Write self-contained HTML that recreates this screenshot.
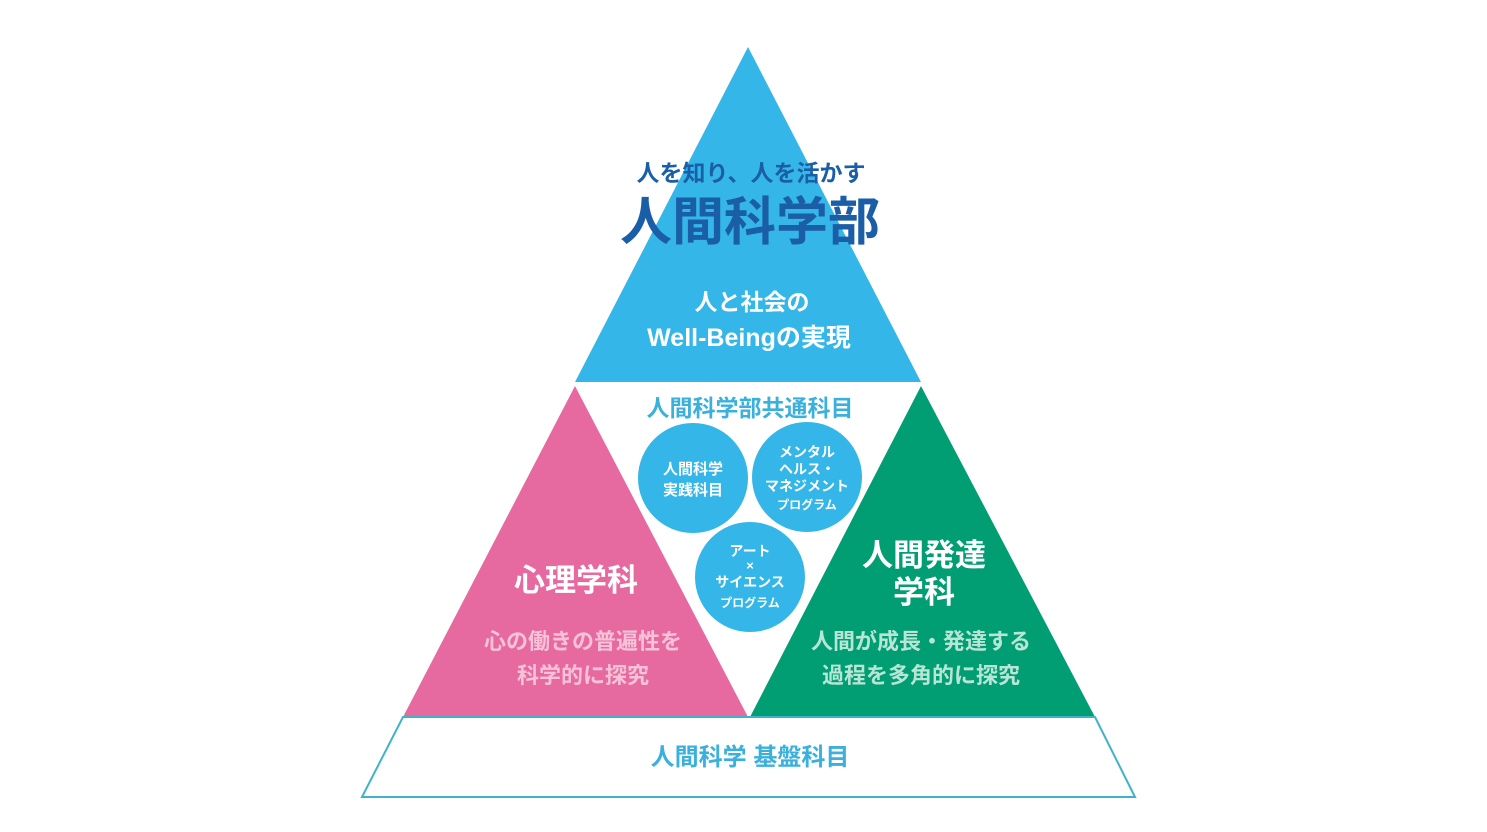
<!DOCTYPE html>
<html><head><meta charset="utf-8"><style>
html,body{margin:0;padding:0;background:#fff;}
svg{display:block}
text{font-family:"Liberation Sans","Noto Sans CJK JP",sans-serif;font-weight:700;text-anchor:middle}
</style></head><body>
<svg width="1487" height="832" viewBox="0 0 1487 832" xmlns="http://www.w3.org/2000/svg">
<rect width="1487" height="832" fill="#fff"/>
<polygon points="748,47 921,382 575,382" fill="#35b6e8"/>
<polygon points="575,386 403,717 748,717" fill="#e66aa0"/>
<polygon points="921,386 750,717 1095,717" fill="#019d73"/>
<polygon points="403,717 1095,717 1135,797 362,797" fill="#fff" stroke="#3fb3c8" stroke-width="2"/>
<text x="751" y="181" font-size="23" fill="#1b5ea8">人を知り、人を活かす</text>
<text x="750" y="240" font-size="52" fill="#1b5ea8">人間科学部</text>
<text x="752" y="310" font-size="23" fill="#fff">人と社会の</text>
<text x="749" y="346" font-size="25" fill="#fff">Well-Beingの実現</text>
<text x="750" y="416" font-size="23" fill="#3ab0dc">人間科学部共通科目</text>
<circle cx="693" cy="478" r="55" fill="#35b6e8"/>
<circle cx="807" cy="477" r="55" fill="#35b6e8"/>
<circle cx="750" cy="577" r="55" fill="#35b6e8"/>
<g fill="#fff">
<text x="693" y="474" font-size="15">人間科学</text>
<text x="693" y="495" font-size="15">実践科目</text>
<text x="807" y="457" font-size="14">メンタル</text>
<text x="807" y="474" font-size="14">ヘルス・</text>
<text x="807" y="491" font-size="14">マネジメント</text>
<text x="807" y="509" font-size="12">プログラム</text>
<text x="750" y="556" font-size="14">アート</text>
<text x="750" y="570" font-size="13">×</text>
<text x="750" y="587" font-size="14">サイエンス</text>
<text x="750" y="607" font-size="12">プログラム</text>
<text x="576" y="591" font-size="31">心理学科</text>
<text x="924" y="566" font-size="31">人間発達</text>
<text x="924" y="603" font-size="31">学科</text>
</g>
<text x="583" y="649" font-size="22" fill="#f6c2d9">心の働きの普遍性を</text>
<text x="583" y="683" font-size="22" fill="#f6c2d9">科学的に探究</text>
<text x="921" y="649" font-size="22" fill="#b8e6d6">人間が成長・発達する</text>
<text x="921" y="683" font-size="22" fill="#b8e6d6">過程を多角的に探究</text>
<text x="750" y="765" font-size="24" fill="#3ab0dc">人間科学 基盤科目</text>
</svg>
</body></html>
